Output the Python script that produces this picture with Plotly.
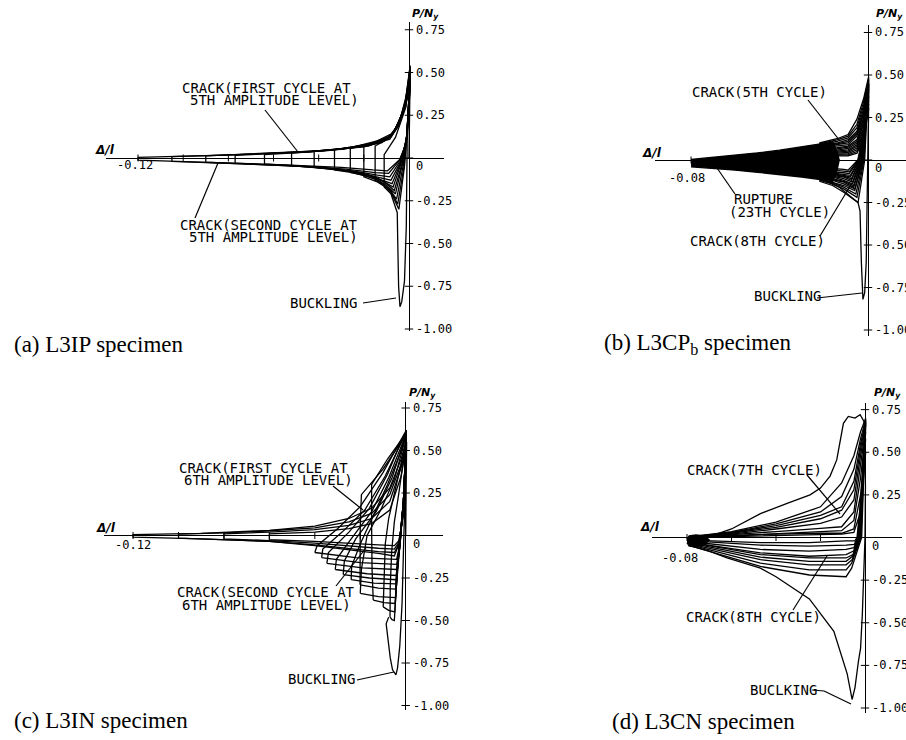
import plotly.graph_objects as go

W, H = 906, 740

# ====================== DATA (delta/l , P/Ny) ======================
Y_TICKS = [0.75, 0.50, 0.25, 0.0, -0.25, -0.50, -0.75, -1.00]
Y_TICK_TEXT = ["0.75", "0.50", "0.25", "0", "-0.25", "-0.50", "-0.75", "-1.00"]
X_TICKS_12 = [-0.12, -0.10, -0.08, -0.06, -0.04, -0.02]
X_TICKS_08 = [-0.08, -0.06, -0.04, -0.02]

# ---- (a) L3IP ----
A_BUCKLE_X = [0.0000, 0.0005, -0.0008, -0.0012, -0.0020, -0.0032, -0.0040, -0.0046, -0.0050, -0.0052, -0.0080, -0.0110, -0.0110, -0.0060, -0.0013, 0.0005]
A_BUCKLE_Y = [0.00, 0.50, 0.10, -0.40, -0.72, -0.84, -0.87, -0.75, -0.48, -0.32, -0.21, -0.17, 0.02, 0.12, 0.30, 0.54]
A_LOOPS_X = [
    [0.0005, -0.0005, -0.0020, -0.0045, -0.0080, -0.0110, -0.0150, -0.0150, -0.0110, -0.0070, -0.0040, -0.0013, 0.0005],
    [0.0005, -0.0006, -0.0022, -0.0050, -0.0080, -0.0140, -0.0200, -0.0200, -0.0140, -0.0080, -0.0045, -0.0015, 0.0005],
    [0.0005, -0.0007, -0.0025, -0.0055, -0.0090, -0.0140, -0.0200, -0.0260, -0.0260, -0.0200, -0.0140, -0.0080, -0.0045, -0.0015, 0.0005],
    [0.0005, -0.0008, -0.0028, -0.0060, -0.0100, -0.0150, -0.0250, -0.0330, -0.0330, -0.0250, -0.0150, -0.0090, -0.0050, -0.0017, 0.0005],
    [0.0005, -0.0009, -0.0030, -0.0065, -0.0100, -0.0150, -0.0250, -0.0420, -0.0420, -0.0300, -0.0180, -0.0100, -0.0055, -0.0018, 0.0005],
    [0.0005, -0.0010, -0.0032, -0.0070, -0.0110, -0.0180, -0.0300, -0.0520, -0.0520, -0.0350, -0.0200, -0.0110, -0.0060, -0.0020, 0.0005],
    [0.0005, -0.0010, -0.0034, -0.0075, -0.0120, -0.0200, -0.0350, -0.0500, -0.0640, -0.0640, -0.0450, -0.0250, -0.0120, -0.0065, -0.0022, 0.0005],
    [0.0005, -0.0011, -0.0036, -0.0080, -0.0130, -0.0220, -0.0400, -0.0600, -0.0770, -0.0770, -0.0550, -0.0300, -0.0140, -0.0070, -0.0024, 0.0005],
    [0.0005, -0.0012, -0.0038, -0.0085, -0.0140, -0.0250, -0.0450, -0.0700, -0.0900, -0.0900, -0.0650, -0.0350, -0.0160, -0.0075, -0.0026, 0.0005],
    [0.0005, -0.0012, -0.0040, -0.0090, -0.0150, -0.0280, -0.0500, -0.0800, -0.1050, -0.1050, -0.0750, -0.0400, -0.0180, -0.0080, -0.0028, 0.0005],
    [0.0005, -0.0013, -0.0042, -0.0095, -0.0160, -0.0300, -0.0550, -0.0900, -0.1200, -0.1200, -0.0850, -0.0450, -0.0200, -0.0085, -0.0030, 0.0005],
]
A_LOOPS_Y = [
    [0.54, 0.20, -0.05, -0.30, -0.20, -0.16, -0.13, 0.07, 0.10, 0.15, 0.22, 0.36, 0.54],
    [0.53, 0.18, -0.05, -0.27, -0.19, -0.14, -0.11, 0.07, 0.10, 0.14, 0.20, 0.34, 0.53],
    [0.52, 0.16, -0.04, -0.24, -0.18, -0.13, -0.10, -0.085, 0.06, 0.08, 0.10, 0.13, 0.19, 0.33, 0.52],
    [0.50, 0.15, -0.03, -0.21, -0.16, -0.12, -0.085, -0.07, 0.05, 0.065, 0.09, 0.12, 0.18, 0.32, 0.50],
    [0.49, 0.14, -0.03, -0.19, -0.15, -0.11, -0.08, -0.055, 0.04, 0.055, 0.08, 0.11, 0.17, 0.31, 0.49],
    [0.47, 0.13, -0.02, -0.17, -0.14, -0.10, -0.07, -0.045, 0.03, 0.045, 0.07, 0.10, 0.16, 0.30, 0.47],
    [0.46, 0.12, -0.02, -0.15, -0.13, -0.09, -0.06, -0.045, -0.035, 0.02, 0.035, 0.06, 0.09, 0.15, 0.29, 0.46],
    [0.44, 0.11, -0.02, -0.13, -0.115, -0.085, -0.055, -0.04, -0.03, 0.015, 0.03, 0.05, 0.085, 0.14, 0.28, 0.44],
    [0.43, 0.10, -0.015, -0.11, -0.10, -0.075, -0.05, -0.035, -0.025, 0.012, 0.025, 0.045, 0.08, 0.13, 0.27, 0.43],
    [0.41, 0.09, -0.01, -0.09, -0.085, -0.065, -0.045, -0.03, -0.02, 0.008, 0.02, 0.04, 0.07, 0.12, 0.26, 0.41],
    [0.40, 0.08, -0.01, -0.075, -0.07, -0.055, -0.04, -0.025, -0.012, 0.004, 0.015, 0.035, 0.065, 0.11, 0.25, 0.40],
]

# ---- (b) L3CPb ----
B_FAN_X = [-0.080, -0.070, -0.060, -0.050, -0.040, -0.030, -0.020, -0.016, -0.014, -0.013, -0.014, -0.016, -0.020, -0.030, -0.040, -0.050, -0.060, -0.070, -0.080]
B_FAN_Y = [0.003, 0.015, 0.028, 0.042, 0.058, 0.076, 0.098, 0.108, 0.05, 0.0, -0.06, -0.128, -0.118, -0.100, -0.085, -0.072, -0.060, -0.050, -0.040]
B_BUCKLE_X = [0.0000, 0.0004, -0.0004, -0.0008, -0.0015, -0.0023, -0.0030, -0.0036, -0.0045, -0.0090, -0.0130, -0.0180]
B_BUCKLE_Y = [0.00, 0.45, -0.20, -0.60, -0.78, -0.82, -0.60, -0.30, -0.25, -0.20, -0.16, -0.13]
B_UP_X = [-0.022, -0.014, -0.009, -0.005, -0.002, 0.0003]
B_UP = [
    [0.100, 0.125, 0.150, 0.240, 0.360, 0.49],
    [0.095, 0.118, 0.140, 0.210, 0.340, 0.48],
    [0.090, 0.110, 0.130, 0.190, 0.320, 0.47],
    [0.085, 0.100, 0.120, 0.170, 0.300, 0.46],
    [0.080, 0.095, 0.110, 0.160, 0.280, 0.45],
    [0.075, 0.088, 0.100, 0.150, 0.270, 0.44],
    [0.070, 0.080, 0.090, 0.140, 0.250, 0.43],
    [0.065, 0.072, 0.082, 0.120, 0.240, 0.42],
    [0.060, 0.065, 0.075, 0.110, 0.220, 0.41],
    [0.055, 0.058, 0.068, 0.100, 0.210, 0.40],
    [0.050, 0.052, 0.060, 0.090, 0.190, 0.38],
    [0.045, 0.046, 0.052, 0.080, 0.180, 0.37],
    [0.040, 0.040, 0.045, 0.070, 0.160, 0.35],
    [0.035, 0.034, 0.038, 0.060, 0.150, 0.33],
    [0.030, 0.028, 0.030, 0.050, 0.130, 0.31],
    [0.025, 0.022, 0.024, 0.040, 0.120, 0.30],
]
B_ZERO_X = [-0.0015, -0.0018, -0.0020, -0.0022, -0.0024, -0.0026, -0.0028, -0.0030, -0.0032, -0.0034, -0.0036, -0.0038, -0.0040, -0.0042, -0.0044, -0.0046]
B_PK_X = [-0.0045, -0.0050, -0.0055, -0.0060, -0.0060, -0.0065, -0.0065, -0.0070, -0.0070, -0.0075, -0.0075, -0.0080, -0.0080, -0.0085, -0.0085, -0.0090]
B_PK_Y = [-0.25, -0.22, -0.20, -0.18, -0.17, -0.16, -0.15, -0.14, -0.13, -0.12, -0.11, -0.10, -0.09, -0.08, -0.07, -0.06]
B_LO_X = [-0.011, -0.016, -0.022]
B_LO = [
    [-0.19, -0.15, -0.125], [-0.17, -0.14, -0.12], [-0.16, -0.135, -0.115], [-0.15, -0.13, -0.11],
    [-0.14, -0.12, -0.105], [-0.13, -0.115, -0.10], [-0.125, -0.11, -0.095], [-0.12, -0.10, -0.09],
    [-0.11, -0.095, -0.085], [-0.10, -0.09, -0.08], [-0.095, -0.085, -0.075], [-0.09, -0.08, -0.07],
    [-0.085, -0.075, -0.065], [-0.075, -0.07, -0.06], [-0.065, -0.06, -0.055], [-0.055, -0.05, -0.05],
]

# ---- (c) L3IN ----
C_BUCKLE_X = [0.0000, 0.0004, -0.0008, -0.0016, -0.0026, -0.0036, -0.0043, -0.0058, -0.0068, -0.0084, -0.0086, -0.0075]
C_BUCKLE_Y = [0.00, 0.55, 0.00, -0.40, -0.65, -0.78, -0.82, -0.79, -0.72, -0.57, -0.52, -0.48]
C_LOOPS_X = [
    [-0.0400, -0.0390, -0.0300, -0.0200, -0.0100, -0.0040, 0.0003, -0.0010, -0.0025, -0.0040, -0.0220, -0.0400],
    [-0.0370, -0.0365, -0.0280, -0.0180, -0.0090, -0.0035, 0.0003, -0.0010, -0.0025, -0.0040, -0.0200, -0.0370],
    [-0.0347, -0.0340, -0.0250, -0.0160, -0.0080, -0.0030, 0.0003, -0.0010, -0.0026, -0.0040, -0.0190, -0.0347],
    [-0.0310, -0.0305, -0.0240, -0.0150, -0.0075, -0.0028, 0.0003, -0.0010, -0.0027, -0.0042, -0.0170, -0.0310],
    [-0.0275, -0.0270, -0.0220, -0.0130, -0.0060, -0.0020, 0.0003, -0.0010, -0.0028, -0.0042, -0.0160, -0.0275],
    [-0.0240, -0.0238, -0.0200, -0.0150, -0.0080, -0.0025, 0.0003, -0.0010, -0.0030, -0.0044, -0.0140, -0.0240],
    [-0.0201, -0.0200, -0.0200, -0.0195, -0.0100, -0.0030, 0.0003, -0.0010, -0.0030, -0.0045, -0.0120, -0.0201],
    [-0.0200, -0.0195, -0.0170, -0.0110, -0.0050, -0.0015, 0.0003, -0.0010, -0.0030, -0.0045, -0.0120, -0.0200],
    [-0.0143, -0.0148, -0.0150, -0.0150, -0.0080, -0.0020, 0.0003, -0.0010, -0.0032, -0.0047, -0.0095, -0.0143],
    [-0.0099, -0.0095, -0.0090, -0.0075, -0.0040, -0.0010, 0.0003, -0.0010, -0.0033, -0.0048, -0.0075, -0.0099],
    [-0.0069, -0.0068, -0.0062, -0.0050, -0.0030, -0.0010, 0.0003, -0.0010, -0.0034, -0.0050, -0.0060, -0.0069],
    [0.0003, -0.0010, -0.0030, -0.0050, -0.0120, -0.0250, -0.0400, -0.0600, -0.0900, -0.1200, -0.1200, -0.0900, -0.0600, -0.0400, -0.0250, -0.0150, -0.0070, -0.0020, 0.0003],
    [0.0003, -0.0010, -0.0030, -0.0050, -0.0120, -0.0250, -0.0400, -0.0600, -0.0800, -0.1000, -0.1000, -0.0800, -0.0600, -0.0400, -0.0250, -0.0150, -0.0070, -0.0020, 0.0003],
    [0.0003, -0.0010, -0.0030, -0.0050, -0.0120, -0.0250, -0.0400, -0.0600, -0.0800, -0.0800, -0.0600, -0.0400, -0.0250, -0.0150, -0.0070, -0.0020, 0.0003],
    [0.0003, -0.0010, -0.0030, -0.0050, -0.0120, -0.0250, -0.0400, -0.0600, -0.0600, -0.0400, -0.0250, -0.0150, -0.0070, -0.0020, 0.0003],
]
C_LOOPS_Y = [
    [-0.100, -0.060, 0.040, 0.170, 0.370, 0.520, 0.620, 0.200, -0.050, -0.140, -0.130, -0.100],
    [-0.130, -0.080, 0.020, 0.150, 0.350, 0.510, 0.610, 0.200, -0.060, -0.170, -0.160, -0.130],
    [-0.164, -0.100, 0.020, 0.160, 0.360, 0.520, 0.610, 0.200, -0.070, -0.200, -0.190, -0.164],
    [-0.200, -0.140, -0.020, 0.140, 0.340, 0.500, 0.600, 0.200, -0.080, -0.235, -0.225, -0.200],
    [-0.230, -0.150, -0.020, 0.140, 0.340, 0.500, 0.600, 0.200, -0.090, -0.260, -0.250, -0.230],
    [-0.260, -0.180, -0.050, 0.100, 0.300, 0.480, 0.590, 0.200, -0.100, -0.285, -0.280, -0.260],
    [-0.290, -0.100, 0.050, 0.240, 0.390, 0.530, 0.600, 0.200, -0.100, -0.315, -0.310, -0.290],
    [-0.340, -0.200, 0.000, 0.150, 0.330, 0.500, 0.590, 0.200, -0.110, -0.365, -0.360, -0.340],
    [-0.380, -0.200, 0.050, 0.300, 0.450, 0.560, 0.590, 0.200, -0.120, -0.400, -0.395, -0.380],
    [-0.420, -0.250, -0.050, 0.100, 0.300, 0.480, 0.580, 0.200, -0.130, -0.450, -0.440, -0.420],
    [-0.480, -0.300, -0.100, 0.080, 0.250, 0.450, 0.570, 0.200, -0.140, -0.500, -0.495, -0.480],
    [0.56, 0.15, -0.05, -0.12, -0.105, -0.085, -0.060, -0.035, -0.020, -0.010, 0.005, 0.012, 0.030, 0.055, 0.100, 0.160, 0.280, 0.450, 0.56],
    [0.55, 0.14, -0.05, -0.10, -0.095, -0.075, -0.055, -0.035, -0.025, -0.015, 0.008, 0.015, 0.028, 0.045, 0.080, 0.130, 0.240, 0.420, 0.55],
    [0.54, 0.13, -0.04, -0.08, -0.075, -0.060, -0.045, -0.030, -0.020, 0.010, 0.020, 0.035, 0.060, 0.100, 0.200, 0.400, 0.54],
    [0.53, 0.12, -0.03, -0.06, -0.055, -0.045, -0.035, -0.025, 0.010, 0.020, 0.040, 0.070, 0.150, 0.350, 0.53],
]

# ---- (d) L3CN ----
D_BIG_X = [-0.0780, -0.0700, -0.0600, -0.0470, -0.0350, -0.0247, -0.0200, -0.0157, -0.0127, -0.0112, -0.0097, -0.0075, -0.0045, -0.0022, -0.0004, 0.0002, 0.0000]
D_BIG_Y = [0.000, 0.005, 0.050, 0.140, 0.200, 0.250, 0.290, 0.360, 0.455, 0.570, 0.670, 0.710, 0.700, 0.720, 0.680, 0.300, 0.000]
D_BUCKLE_X = [-0.0780, -0.0700, -0.0620, -0.0470, -0.0400, -0.0250, -0.0140, -0.0080, -0.0058, -0.0045, -0.0030, -0.0020, -0.0012, -0.0004, 0.0000]
D_BUCKLE_Y = [-0.050, -0.080, -0.120, -0.180, -0.230, -0.360, -0.550, -0.800, -0.950, -0.880, -0.730, -0.650, -0.450, -0.100, 0.000]
D_BLOB_X = [-0.0800, -0.0790, -0.0760, -0.0720, -0.0700, -0.0720, -0.0760, -0.0790, -0.0800]
D_BLOB_Y = [-0.010, 0.010, 0.015, 0.010, -0.015, -0.040, -0.055, -0.050, -0.030]
D_UP_X = [-0.078, -0.060, -0.040, -0.020, -0.0105, -0.005, -0.002, 0.0003]
D_UP = [
    [0.005, 0.035, 0.090, 0.180, 0.320, 0.480, 0.620, 0.700],
    [0.005, 0.030, 0.080, 0.150, 0.240, 0.400, 0.580, 0.690],
    [0.004, 0.028, 0.070, 0.130, 0.180, 0.330, 0.550, 0.680],
    [0.003, 0.025, 0.060, 0.110, 0.160, 0.280, 0.520, 0.670],
    [0.002, 0.020, 0.050, 0.083, 0.120, 0.220, 0.480, 0.660],
    [0.000, 0.015, 0.035, 0.054, 0.063, 0.150, 0.420, 0.640],
    [0.000, 0.010, 0.025, 0.034, 0.040, 0.100, 0.350, 0.620],
    [0.000, 0.010, 0.020, 0.025, 0.025, 0.050, 0.250, 0.580],
    [0.000, 0.005, 0.010, 0.015, 0.020, 0.030, 0.150, 0.500],
]
D_ZERO_X = [-0.0015, -0.0018, -0.0020, -0.0022, -0.0025, -0.0028, -0.0030, -0.0033, -0.0036]
D_PK_X = [-0.0060, -0.0060, -0.0058, -0.0056, -0.0054, -0.0052, -0.0050, -0.0048, -0.0046]
D_PK_Y = [-0.18, -0.15, -0.13, -0.11, -0.10, -0.08, -0.06, -0.04, -0.02]
D_LO_X = [-0.0085, -0.025, -0.047, -0.078]
D_LO = [
    [-0.230, -0.220, -0.170, -0.050],
    [-0.190, -0.190, -0.150, -0.045],
    [-0.160, -0.160, -0.130, -0.040],
    [-0.140, -0.140, -0.115, -0.035],
    [-0.120, -0.120, -0.100, -0.030],
    [-0.100, -0.110, -0.090, -0.030],
    [-0.070, -0.080, -0.070, -0.025],
    [-0.045, -0.050, -0.045, -0.020],
    [-0.020, -0.030, -0.030, -0.015],
]

# ====================== LAYOUT GEOMETRY (pixels) ======================
PANELS = [
    dict(ox=409.0, oy=158.0, sx=2258.0, sy=171.0, x0=106, x1=444, y0=22, y1=331),
    dict(ox=868.0, oy=160.0, sx=2212.0, sy=170.0, x0=655, x1=906, y0=25, y1=336),
    dict(ox=405.7, oy=535.5, sx=2272.0, sy=170.0, x0=104, x1=443, y0=402, y1=710),
    dict(ox=865.0, oy=537.5, sx=2225.0, sy=170.5, x0=652, x1=902, y0=403, y1=713),
]
MONO = "DejaVu Sans Mono"
SERIF = "Liberation Serif"
LW = 1.3

fig = go.Figure()


def ax_ids(i):
    s = "" if i == 0 else str(i + 1)
    return "x" + s, "y" + s


def line(i, xs, ys, width=LW, fill=None):
    xa, ya = ax_ids(i)
    fig.add_trace(go.Scatter(x=xs, y=ys, mode="lines", xaxis=xa, yaxis=ya,
                             line=dict(color="black", width=width),
                             fill=fill, fillcolor="black" if fill else None,
                             hoverinfo="skip", showlegend=False))


# (a)
line(0, A_BUCKLE_X, A_BUCKLE_Y)
for xs, ys in zip(A_LOOPS_X, A_LOOPS_Y):
    line(0, xs, ys)

# (b)
line(1, B_FAN_X, B_FAN_Y, fill="toself")
for k in range(len(B_UP)):
    xs = B_UP_X + [B_ZERO_X[k], B_PK_X[k]] + B_LO_X
    ys = B_UP[k] + [0.0, B_PK_Y[k]] + B_LO[k]
    line(1, xs, ys)
line(1, B_BUCKLE_X, B_BUCKLE_Y)

# (c)
for xs, ys in zip(C_LOOPS_X, C_LOOPS_Y):
    line(2, xs, ys)
line(2, C_BUCKLE_X, C_BUCKLE_Y)

# (d)
line(3, D_BLOB_X, D_BLOB_Y, fill="toself")
for k in range(len(D_UP)):
    xs = D_UP_X + [D_ZERO_X[k], D_PK_X[k]] + D_LO_X
    ys = D_UP[k] + [0.0, D_PK_Y[k]] + D_LO[k]
    line(3, xs, ys)
line(3, D_BIG_X, D_BIG_Y)
line(3, D_BUCKLE_X, D_BUCKLE_Y)

# ticks
for i in range(4):
    xa, ya = ax_ids(i)
    xt = X_TICKS_12 if i in (0, 2) else X_TICKS_08
    fig.add_trace(go.Scatter(x=[0.0] * len(Y_TICKS), y=Y_TICKS, mode="markers", xaxis=xa, yaxis=ya,
                             marker=dict(symbol="line-ew", size=6, line=dict(color="black", width=1)),
                             hoverinfo="skip", showlegend=False))
    fig.add_trace(go.Scatter(x=xt, y=[0.0] * len(xt), mode="markers", xaxis=xa, yaxis=ya,
                             marker=dict(symbol="line-ns", size=5, line=dict(color="black", width=1)),
                             hoverinfo="skip", showlegend=False))

layout = dict(width=W, height=H, margin=dict(l=0, r=0, t=0, b=0),
              paper_bgcolor="white", plot_bgcolor="white", showlegend=False)
for i, p in enumerate(PANELS):
    s = "" if i == 0 else str(i + 1)
    xr = [(p["x0"] - p["ox"]) / p["sx"], (p["x1"] - p["ox"]) / p["sx"]]
    yr = [(p["oy"] - p["y1"]) / p["sy"], (p["oy"] - p["y0"]) / p["sy"]]
    layout["xaxis" + s] = dict(domain=[p["x0"] / W, p["x1"] / W], range=xr, anchor="y" + s,
                               showgrid=False, zeroline=True, zerolinecolor="black", zerolinewidth=1.3,
                               showticklabels=False, ticks="", showline=False, fixedrange=True)
    layout["yaxis" + s] = dict(domain=[1 - p["y1"] / H, 1 - p["y0"] / H], range=yr, anchor="x" + s,
                               showgrid=False, zeroline=True, zerolinecolor="black", zerolinewidth=1.3,
                               showticklabels=False, ticks="", showline=False, fixedrange=True)
fig.update_layout(**layout)

annotations = []
shapes = []


def P(px, py):
    return px / W, 1 - py / H


def text(px, py, s, size=14, anchor="left", family=MONO):
    x, y = P(px, py)
    annotations.append(dict(x=x, y=y, xref="paper", yref="paper", text=s, showarrow=False,
                            xanchor=anchor, yanchor="middle", font=dict(family=family, size=size, color="black")))


def leader(p1, p2):
    x1, y1 = P(*p1)
    x2, y2 = P(*p2)
    shapes.append(dict(type="line", xref="paper", yref="paper", x0=x1, y0=y1, x1=x2, y1=y2,
                       line=dict(color="black", width=1.2)))


# tick labels (in data coords)
for i in range(4):
    xa, ya = ax_ids(i)
    for v, t in zip(Y_TICKS, Y_TICK_TEXT):
        annotations.append(dict(x=0, y=v, xref=xa, yref=ya, text=t, showarrow=False, xanchor="left",
                                yanchor="middle", xshift=5, yshift=(-8 if v == 0 else 0),
                                font=dict(family=MONO, size=12, color="black")))

# axis labels
for (dx, dy), (px_, py_), xl, (lx, ly) in [
    ((105, 150), (425, 14), "-0.12", (135, 165)),
    ((652, 153), (889, 14), "-0.08", (687, 178)),
    ((106, 528), (422, 393), "-0.12", (133, 545)),
    ((650, 527), (887, 393), "-0.08", (680, 558)),
]:
    text(dx, dy, "<b><i>Δ/l</i></b>", size=12, anchor="center", family="DejaVu Sans")
    text(px_, py_, "<b><i>P/N<sub>y</sub></i></b>", size=11, anchor="center", family="DejaVu Sans")
    text(lx, ly, xl, size=12, anchor="center")

# (a) labels
text(180, 88, "CRACK(FIRST CYCLE AT")
text(188, 100, "5TH AMPLITUDE LEVEL)")
leader((265, 110), (298, 152))
text(178, 225, "CRACK(SECOND CYCLE AT")
text(187, 237, "5TH AMPLITUDE LEVEL)")
leader((195, 218), (218, 163))
text(288, 303, "BUCKLING")
leader((363, 303), (396, 298))

# (b) labels
text(690, 92, "CRACK(5TH CYCLE)")
leader((808, 100), (840, 141))
text(732, 199, "RUPTURE")
text(727, 212, "(23TH CYCLE)")
leader((735, 194), (717, 168))
text(688, 241, "CRACK(8TH CYCLE)")
leader((820, 236), (852, 183))
text(752, 296, "BUCKLING")
leader((817, 298), (862, 293))

# (c) labels
text(177, 468, "CRACK(FIRST CYCLE AT")
text(182, 480, "6TH AMPLITUDE LEVEL)")
leader((333, 486), (363, 510))
text(175, 592, "CRACK(SECOND CYCLE AT")
text(180, 605, "6TH AMPLITUDE LEVEL)")
leader((336, 586), (366, 548))
text(286, 679, "BUCKLING")
leader((357, 680), (394, 672))

# (d) labels
text(685, 470, "CRACK(7TH CYCLE)")
leader((807, 475), (840, 514))
text(684, 617, "CRACK(8TH CYCLE)")
leader((793, 610), (827, 556))
text(748, 690, "BUCLKING")
leader((812, 690), (824, 691))
leader((824, 691), (851, 704))

# captions
text(12, 344, "(a) L3IP specimen", size=23, family=SERIF)
text(602, 344, "(b) L3CP<sub>b</sub> specimen", size=23, family=SERIF)
text(12, 720, "(c) L3IN specimen", size=23, family=SERIF)
text(610, 721, "(d) L3CN specimen", size=23, family=SERIF)

fig.update_layout(annotations=annotations, shapes=shapes)
fig.write_html("out.html", config={"displayModeBar": False},
               post_script="document.body.style.margin='0px';document.body.style.overflow='hidden';")
